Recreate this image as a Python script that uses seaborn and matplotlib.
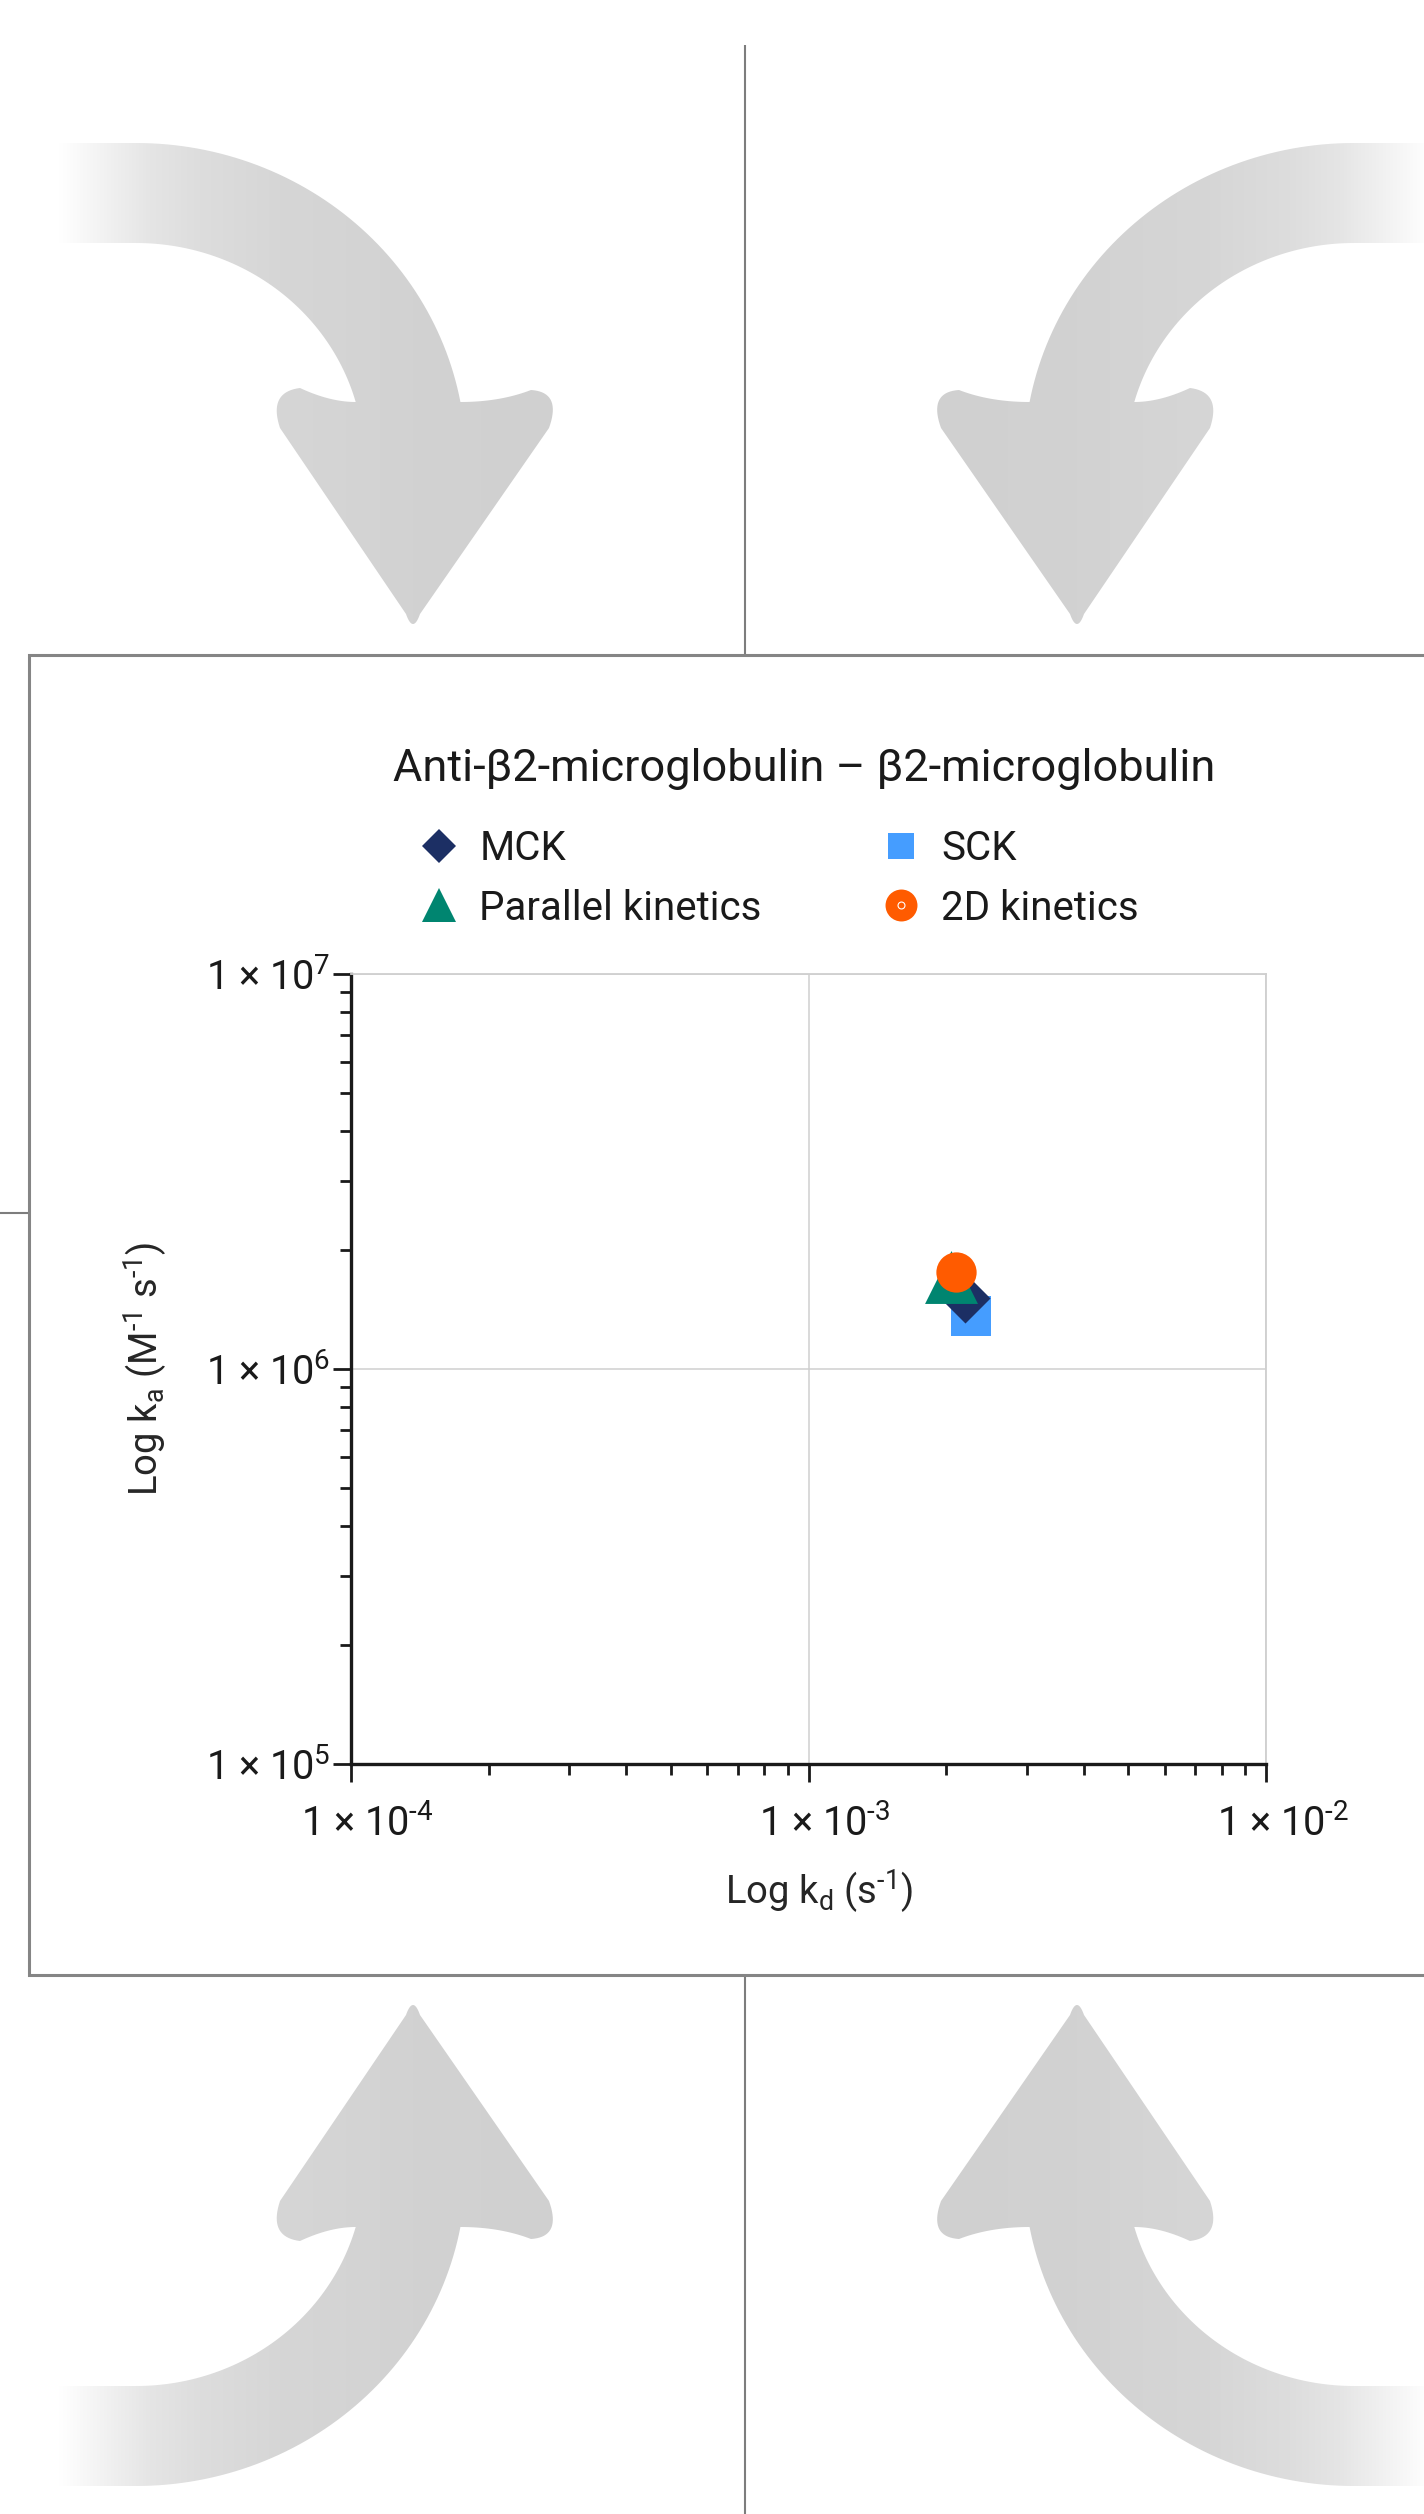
import numpy as np
import pandas as pd
import matplotlib
matplotlib.use("Agg")
import matplotlib.pyplot as plt
import matplotlib.transforms as mtransforms
import seaborn as sns
from matplotlib.path import Path
from matplotlib.patches import PathPatch
from matplotlib.lines import Line2D
from matplotlib.ticker import FixedLocator, LogLocator, NullFormatter

# ---- data -------------------------------------------------------------
methods = ["SCK", "MCK", "Parallel kinetics", "2D kinetics"]
kd_values = [2.27e-3, 2.20e-3, 2.05e-3, 2.10e-3]      # s^-1
ka_values = [1.36e6, 1.51e6, 1.71e6, 1.76e6]          # M^-1 s^-1
method_colors = ["#459DFF", "#1C2F64", "#008570", "#FF5B00"]
method_markers = ["s", "D", "^", "o"]
legend_order = ["MCK", "Parallel kinetics", "SCK", "2D kinetics"]

HY = "\u2010"  # short hyphen used in the exponents
x_ticks = [1e-4, 1e-3, 1e-2]
x_ticklabels = [f"1 × 10$^{{{HY}4}}$", f"1 × 10$^{{{HY}3}}$", f"1 × 10$^{{{HY}2}}$"]
y_ticks = [1e5, 1e6, 1e7]
y_ticklabels = ["1 × 10$^{5}$", "1 × 10$^{6}$", "1 × 10$^{7}$"]

title_text = "Anti-β2-microglobulin – β2-microglobulin"
x_label = f"Log k$_{{d}}$ (s$^{{{HY}1}}$)"
y_label = f"Log k$_{{a}}$ (M$^{{{HY}1}}$ s$^{{{HY}1}}$)"

df = pd.DataFrame({"method": methods, "kd": kd_values, "ka": ka_values})

# ---- style ------------------------------------------------------------
sns.set_theme(style="white")
plt.rcParams["font.family"] = ["Roboto", "DejaVu Sans"]
plt.rcParams["mathtext.fontset"] = "custom"
plt.rcParams["mathtext.rm"] = "Roboto"
plt.rcParams["mathtext.it"] = "Roboto:italic"
plt.rcParams["mathtext.bf"] = "Roboto:bold"
plt.rcParams["mathtext.default"] = "regular"
plt.rcParams["text.color"] = "#1a1a1a"

W, H = 1424, 2514
fig = plt.figure(figsize=(W / 100, H / 100), dpi=100)
fig.patch.set_facecolor("white")

# ---- background decoration (pixel coordinates) ------------------------
bg = fig.add_axes([0, 0, 1, 1], zorder=0)
bg.set_xlim(0, W)
bg.set_ylim(H, 0)
bg.axis("off")

MID_X = 745.0
MID_Y = 1314.5


def quad(p0, c, p1, n=20):
    t = np.linspace(0, 1, n)[:, None]
    p0, c, p1 = map(np.asarray, (p0, c, p1))
    return (1 - t) ** 2 * p0 + 2 * (1 - t) * t * c + t ** 2 * p1


def ell(cx, cy, a, b, t0, t1, n=60):
    t = np.linspace(t0, t1, n)
    return np.column_stack([cx + a * np.cos(t), cy - b * np.sin(t)])


def curved_arrow():
    cx, cy = 136.0, 460.0
    ao, bo = 330.0, 317.0
    ai, bi = 228.0, 217.0
    to = np.arcsin((cy - 402) / bo)
    ti = np.arcsin((cy - 402) / bi)
    outer = ell(cx, cy, ao, bo, np.pi / 2, to)
    inner = ell(cx, cy, ai, bi, ti, np.pi / 2)
    o_end = outer[-1]
    i_start = inner[0]
    pts = [np.array([[40, 143]]), outer,
           quad(o_end, (500, 402), (531, 390)),
           quad((531, 390), (562, 392), (549, 428)),
           np.array([[420, 614]]),
           quad((420, 614), (413, 634), (406, 614)),
           np.array([[280, 428]]),
           quad((280, 428), (268, 392), (300, 388)),
           quad((300, 388), (330, 402), i_start),
           inner,
           np.array([[40, 243]])]
    return np.vstack(pts)


base = curved_arrow()
verts, codes = [], []
for fx in (False, True):
    for fy in (False, True):
        p = base.copy()
        if fx:
            p[:, 0] = 2 * MID_X - p[:, 0]
        if fy:
            p[:, 1] = 2 * MID_Y - p[:, 1]
        verts.extend(p.tolist())
        verts.append(p[0].tolist())
        codes.extend([Path.MOVETO] + [Path.LINETO] * (len(p) - 1) + [Path.CLOSEPOLY])
arrow_path = Path(verts, codes)
clip = PathPatch(arrow_path, transform=bg.transData, facecolor="none", edgecolor="none")
bg.add_patch(clip)

xs = np.arange(W) + 0.5
d = np.abs(xs - MID_X)
gray = np.interp(d, [0, 195, 332, 465, 545, 595, 645, 685, 900],
                 [206, 208, 210, 214, 221, 229, 243, 255, 255]) / 255.0
grad = np.repeat(gray[None, :, None], 3, axis=2)
im = bg.imshow(grad, extent=(0, W, H, 0), aspect="auto", interpolation="bilinear", zorder=1)
im.set_clip_path(clip)
bg.set_xlim(0, W)
bg.set_ylim(H, 0)

line_kw = dict(color="#7d7d7d", lw=1.5, solid_capstyle="butt", zorder=2)
bg.plot([MID_X, MID_X], [45, 654], **line_kw)
bg.plot([MID_X, MID_X], [1975, H + 5], **line_kw)
bg.plot([0, 28], [1213, 1213], **line_kw)
bg.plot([W + 10, 28.5, 28.5, W + 10], [655, 655, 1974.5, 1974.5],
        color="#858585", lw=2.2, solid_joinstyle="miter", zorder=3)

# ---- main scatter panel -----------------------------------------------
ax = fig.add_axes([351 / W, 1 - 1764 / H, (1266 - 351) / W, (1764 - 974) / H], zorder=2)
ax.set_facecolor("white")
ax.set_xscale("log")
ax.set_yscale("log")

sizes = {"SCK": 829, "MCK": 650, "Parallel kinetics": 1450, "2D kinetics": 841}
for m, c, mk in zip(methods, method_colors, method_markers):
    sub = df[df["method"] == m]
    sns.scatterplot(data=sub, x="kd", y="ka", marker=mk, color=c, s=sizes[m],
                    linewidth=0, ax=ax, legend=False, zorder=3)

ax.set_xlim(1e-4, 1e-2)
ax.set_ylim(1e5, 1e7)
ax.xaxis.set_major_locator(FixedLocator(x_ticks))
ax.yaxis.set_major_locator(FixedLocator(y_ticks))
ax.set_xticklabels(x_ticklabels)
ax.set_yticklabels(y_ticklabels)
ax.xaxis.set_minor_locator(LogLocator(base=10, subs=np.arange(2, 10)))
ax.yaxis.set_minor_locator(LogLocator(base=10, subs=np.arange(2, 10)))
ax.xaxis.set_minor_formatter(NullFormatter())
ax.yaxis.set_minor_formatter(NullFormatter())

ax.tick_params(which="major", direction="out", length=13, width=2.0, color="#1a1a1a",
               labelsize=28.5, labelcolor="#1a1a1a")
ax.tick_params(which="minor", direction="out", length=8, width=2.0, color="#1a1a1a")
ax.tick_params(axis="x", which="major", pad=16)
ax.tick_params(axis="y", which="major", pad=2)
ax.tick_params(bottom=True, left=True, top=False, right=False, which="both")

# the mantissa part of each x label sits centred under its tick
shift = mtransforms.ScaledTranslation(12 / 72, 0, fig.dpi_scale_trans)
for lab in ax.get_xticklabels():
    lab.set_transform(lab.get_transform() + shift)

ax.grid(True, which="major", color="#cfcfcf", lw=1.1)
ax.grid(False, which="minor")
ax.set_axisbelow(True)
for side in ("top", "right"):
    ax.spines[side].set_color("#cfcfcf")
    ax.spines[side].set_linewidth(1.3)
for side in ("left", "bottom"):
    ax.spines[side].set_color("#1a1a1a")
    ax.spines[side].set_linewidth(2.4)

ax.set_xlabel(x_label, fontsize=27.5, labelpad=17, x=0.512, ha="center")
ax.set_ylabel(y_label, fontsize=27.5, labelpad=26)

# ---- title and legend --------------------------------------------------
fig.text(804 / W, 1 - 781 / H, title_text, ha="center", va="baseline", fontsize=32.5)

handle_map = {
    "MCK": Line2D([], [], ls="none", marker="D", ms=17.8, color=method_colors[1], mew=0),
    "SCK": Line2D([], [], ls="none", marker="s", ms=18.7, color=method_colors[0], mew=0),
    "Parallel kinetics": Line2D([], [], ls="none", marker="^", ms=24.5, color=method_colors[2], mew=0),
    "2D kinetics": (Line2D([], [], ls="none", marker="o", ms=23, color=method_colors[3], mew=0),
                    Line2D([], [], ls="none", marker="o", ms=5, mfc="none", mec="white", mew=0.8)),
}
leg = ax.legend([handle_map[k] for k in legend_order], legend_order, ncol=2,
                loc="center left", bbox_to_anchor=(419 / W, 1 - 878.5 / H),
                bbox_transform=fig.transFigure, frameon=False, fontsize=29,
                handlelength=1.0, handletextpad=0.5, columnspacing=2.95,
                labelspacing=0.5, borderpad=0, borderaxespad=0)

fig.savefig("out.png", dpi=100, facecolor="white")
